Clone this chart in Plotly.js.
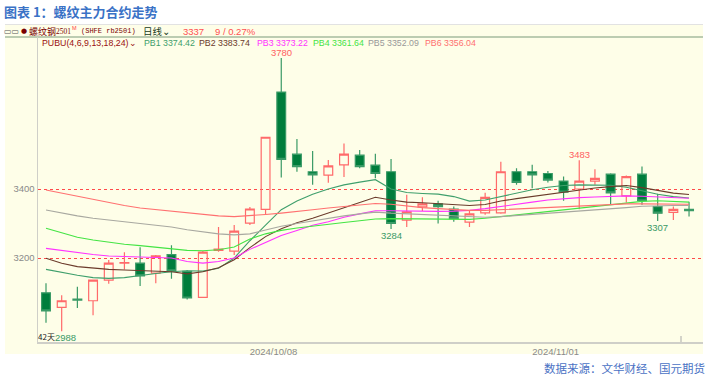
<!DOCTYPE html>
<html><head><meta charset="utf-8">
<script src="https://cdn.plot.ly/plotly-3.0.1.min.js"></script>
<style>html,body{margin:0;padding:0;background:#fff}#chart{width:710px;height:378px}</style>
</head><body><div id="chart"></div>
<script>
const dates = ['2024/09/06','2024/09/09','2024/09/10','2024/09/11','2024/09/12','2024/09/13','2024/09/18','2024/09/19','2024/09/20','2024/09/23',
 '2024/09/24','2024/09/25','2024/09/26','2024/09/27','2024/09/30','2024/10/08','2024/10/09','2024/10/10','2024/10/11','2024/10/14',
 '2024/10/15','2024/10/16','2024/10/17','2024/10/18','2024/10/21','2024/10/22','2024/10/23','2024/10/24','2024/10/25','2024/10/28',
 '2024/10/29','2024/10/30','2024/10/31','2024/11/01','2024/11/04','2024/11/05','2024/11/06','2024/11/07','2024/11/08','2024/11/11',
 '2024/11/12','2024/11/13'];
const openP  = [3099,3057,3081,3076,3136,3185,3185,3156,3210,3161,3086,3222,3220,3301,3341,3681,3501,3450,3440,3470,3498,3469,3450,3310,3348,3357,3342,3304,3331,3331,3450,3450,3445,3423,3400,3423,3443,3380,3443,3349,3332,3341];
const highP  = [3127,3092,3117,3137,3194,3217,3231,3209,3237,3165,3220,3290,3296,3348,3550,3780,3545,3510,3484,3532,3513,3502,3487,3383,3376,3366,3349,3339,3389,3479,3460,3470,3452,3436,3483,3457,3446,3439,3465,3386,3349,3363];
const lowP   = [3012,2988,3055,3034,3125,3167,3119,3127,3140,3080,3084,3218,3209,3296,3325,3433,3450,3412,3418,3435,3460,3431,3284,3290,3336,3300,3305,3290,3325,3328,3412,3402,3419,3366,3341,3412,3354,3361,3354,3307,3310,3320];
const closeP = [3047,3076,3078,3136,3185,3187,3148,3206,3163,3084,3217,3226,3278,3342,3550,3486,3465,3441,3467,3501,3465,3445,3300,3334,3357,3349,3314,3328,3376,3450,3419,3441,3426,3391,3423,3431,3389,3436,3366,3330,3341,3337];

const pb1 = [3167,3158,3150,3143,3141,3143,3150,3155,3160,3163,3162,3170,3200,3250,3295,3340,3365,3385,3400,3412,3420,3427,3400,3390,3387,3385,3378,3365,3368,3378,3390,3398,3405,3410,3412,3412,3411,3405,3395,3385,3378,3374];
const pb2 = [3199,3185,3175,3170,3167,3165,3163,3162,3160,3154,3160,3172,3195,3230,3262,3285,3302,3315,3330,3345,3360,3376,3368,3362,3360,3358,3355,3352,3355,3365,3372,3378,3385,3392,3398,3403,3407,3410,3404,3395,3388,3384];
const pb3 = [3228,3222,3215,3210,3206,3204,3203,3202,3200,3190,3185,3190,3200,3225,3245,3265,3280,3295,3305,3318,3328,3337,3337,3336,3335,3335,3336,3338,3343,3350,3357,3362,3368,3372,3375,3377,3379,3380,3379,3377,3375,3373];
const pb4 = [3286,3272,3260,3252,3245,3240,3236,3232,3228,3222,3221,3224,3232,3255,3270,3280,3287,3293,3298,3303,3308,3313,3314,3314,3313,3312,3312,3312,3315,3320,3325,3330,3335,3340,3345,3350,3355,3360,3364,3366,3364,3362];
const pb5 = [3339,3330,3322,3315,3310,3305,3300,3296,3290,3282,3275,3270,3267,3270,3281,3292,3300,3308,3316,3322,3328,3333,3330,3328,3325,3322,3320,3318,3318,3320,3323,3326,3330,3333,3336,3340,3343,3346,3350,3352,3352,3352];
const pb6 = [3397,3388,3378,3368,3360,3352,3345,3340,3335,3330,3325,3322,3320,3322,3326,3330,3336,3340,3345,3350,3354,3358,3356,3350,3346,3343,3340,3338,3338,3340,3342,3345,3348,3350,3352,3354,3356,3357,3357,3357,3356,3356];

const pbNames = ['PB1','PB2','PB3','PB4','PB5','PB6'];
const pbLast  = ['3374.42','3383.74','3373.22','3361.64','3352.09','3356.04'];
const dateTicks = ['2024/10/08','2024/11/01'];
const highMarks = [15, 34];
const lowMarks  = [1, 22, 39];

const idx = dates.map((d,i)=>i);
const pbColors = ['#3f9f6c','#6b3b2b','#ff33ff','#44e444','#a8a8a0','#ff7070'];
const pbSeries = [pb1,pb2,pb3,pb4,pb5,pb6];

const L=38,R=703,T=37,B=342;
const px = x => (x-L)/(R-L);
const py = y => (B-y)/(B-T);

const traces = [{
  type:'candlestick', x: idx, open: openP, high: highP, low: lowP, close: closeP,
  increasing:{line:{color:'#ff6a6a',width:1.2}, fillcolor:'rgba(0,0,0,0)'},
  decreasing:{line:{color:'#3a9a66',width:1.2}, fillcolor:'#007d3c'},
  whiskerwidth:0, hoverinfo:'skip', showlegend:false
}];
pbSeries.forEach((s,k)=>traces.push({type:'scatter',mode:'lines',x:idx,y:s,line:{color:pbColors[k],width:1.1},hoverinfo:'skip',showlegend:false}));

const F = 'Liberation Sans, Arial, sans-serif';
const CJK = 'Noto Sans CJK SC, sans-serif';
const ann = [];
function addText(text,x,y,color,size,font,anchor){
  ann.push({xref:'paper',yref:'paper',x:px(x),y:py(y),text:text,showarrow:false,xanchor:anchor||'left',yanchor:'middle',
    font:{family:font||F,size:size,color:color}, borderpad:0});
}
addText('<b>图表 1：螺纹主力合约走势</b>',3,12,'#3a72c6',13,CJK);
addText('数据来源：文华财经、国元期货',706,368,'#4a72c4',11.5,CJK,'right');
addText('▭▭',3,31,'#555555',8,'DejaVu Sans');
addText('●',20,31,'#7a0000',7,'DejaVu Sans');
addText('螺纹钢',28,31,'#7a0000',9,CJK);
addText('2501',55,31.5,'#7a0000',7.5,'Liberation Serif, serif');
addText('M',71,28,'#ff4040',5.5,F);
addText('(SHFE rb2501)',80,31,'#7a0000',7,'Liberation Mono, monospace');
addText('日线⌄',142,31,'#203a20',9.5,CJK);
addText('3337',182,31,'#ff5050',9.5,F);
addText('9 / 0.27%',214,31,'#ff5050',9.5,F);
addText('PUBU(4,6,9,13,18,24)⌄',41,43,'#9a1010',8.8,F);
const pbX = [143,198,256,312,367,424];
pbNames.forEach((n,k)=>addText(n+' '+pbLast[k],pbX[k],43,pbColors[k]==='#a8a8a0'?'#999999':pbColors[k],8.8,F));
addText('42天',37,336,'#222222',8,CJK);

highMarks.forEach(i=>ann.push({x:i,y:highP[i],xref:'x',yref:'y',text:String(highP[i]),showarrow:false,yanchor:'bottom',yshift:-1,borderpad:0,
  font:{family:F,size:9.5,color:'#ff6060'}}));
lowMarks.forEach(i=>ann.push({x:i,y:lowP[i],xref:'x',yref:'y',text:String(lowP[i]),showarrow:false,yanchor:'top',yshift:0,borderpad:0,
  xshift:(i===1?4:0),font:{family:F,size:9.5,color:'#3a9a66'}}));

const shapes = [
  {type:'rect',xref:'paper',yref:'paper',x0:px(5),x1:px(703),y0:py(354),y1:py(25),fillcolor:'#fefee8',line:{width:0},layer:'below'},
  {type:'line',xref:'paper',yref:'paper',x0:px(5),x1:px(703),y0:py(24.5),y1:py(24.5),line:{color:'#e2e2e2',width:1},layer:'below'},
  {type:'line',xref:'paper',yref:'paper',x0:px(5),x1:px(703),y0:py(37),y1:py(37),line:{color:'#7b9a7b',width:1},layer:'below'},
  {type:'line',xref:'paper',yref:'paper',x0:px(681),x1:px(681),y0:py(336),y1:py(342),line:{color:'#aaaaaa',width:1},layer:'above'}
];

const layout = {
  width:710,height:378,margin:{l:L,r:710-R,t:T,b:378-B,pad:0},
  paper_bgcolor:'#ffffff',plot_bgcolor:'rgba(0,0,0,0)',
  showlegend:false, boxgap:0.2, hovermode:false,
  xaxis:{type:'linear',range:[-0.51,41.89],rangeslider:{visible:false},showgrid:false,zeroline:false,
    showline:true,linecolor:'#cfcfc8',linewidth:1.5,ticks:'',
    tickvals:dateTicks.map(d=>dates.indexOf(d)-0.5),ticktext:dateTicks,
    tickfont:{family:F,size:9.5,color:'#8a8a8a'},fixedrange:true},
  yaxis:{range:[2956.5,3840.6],tickvals:[3200,3400],showgrid:true,gridcolor:'#ff4a4a',gridwidth:1,griddash:'3px,3px',
    zeroline:false,showline:true,linecolor:'#cfcfc8',linewidth:1.5,ticks:'',
    tickfont:{family:F,size:9.5,color:'#8a8a8a'},fixedrange:true},
  annotations:ann, shapes:shapes
};
Plotly.newPlot('chart',traces,layout,{staticPlot:true,displayModeBar:false});
</script></body></html>
